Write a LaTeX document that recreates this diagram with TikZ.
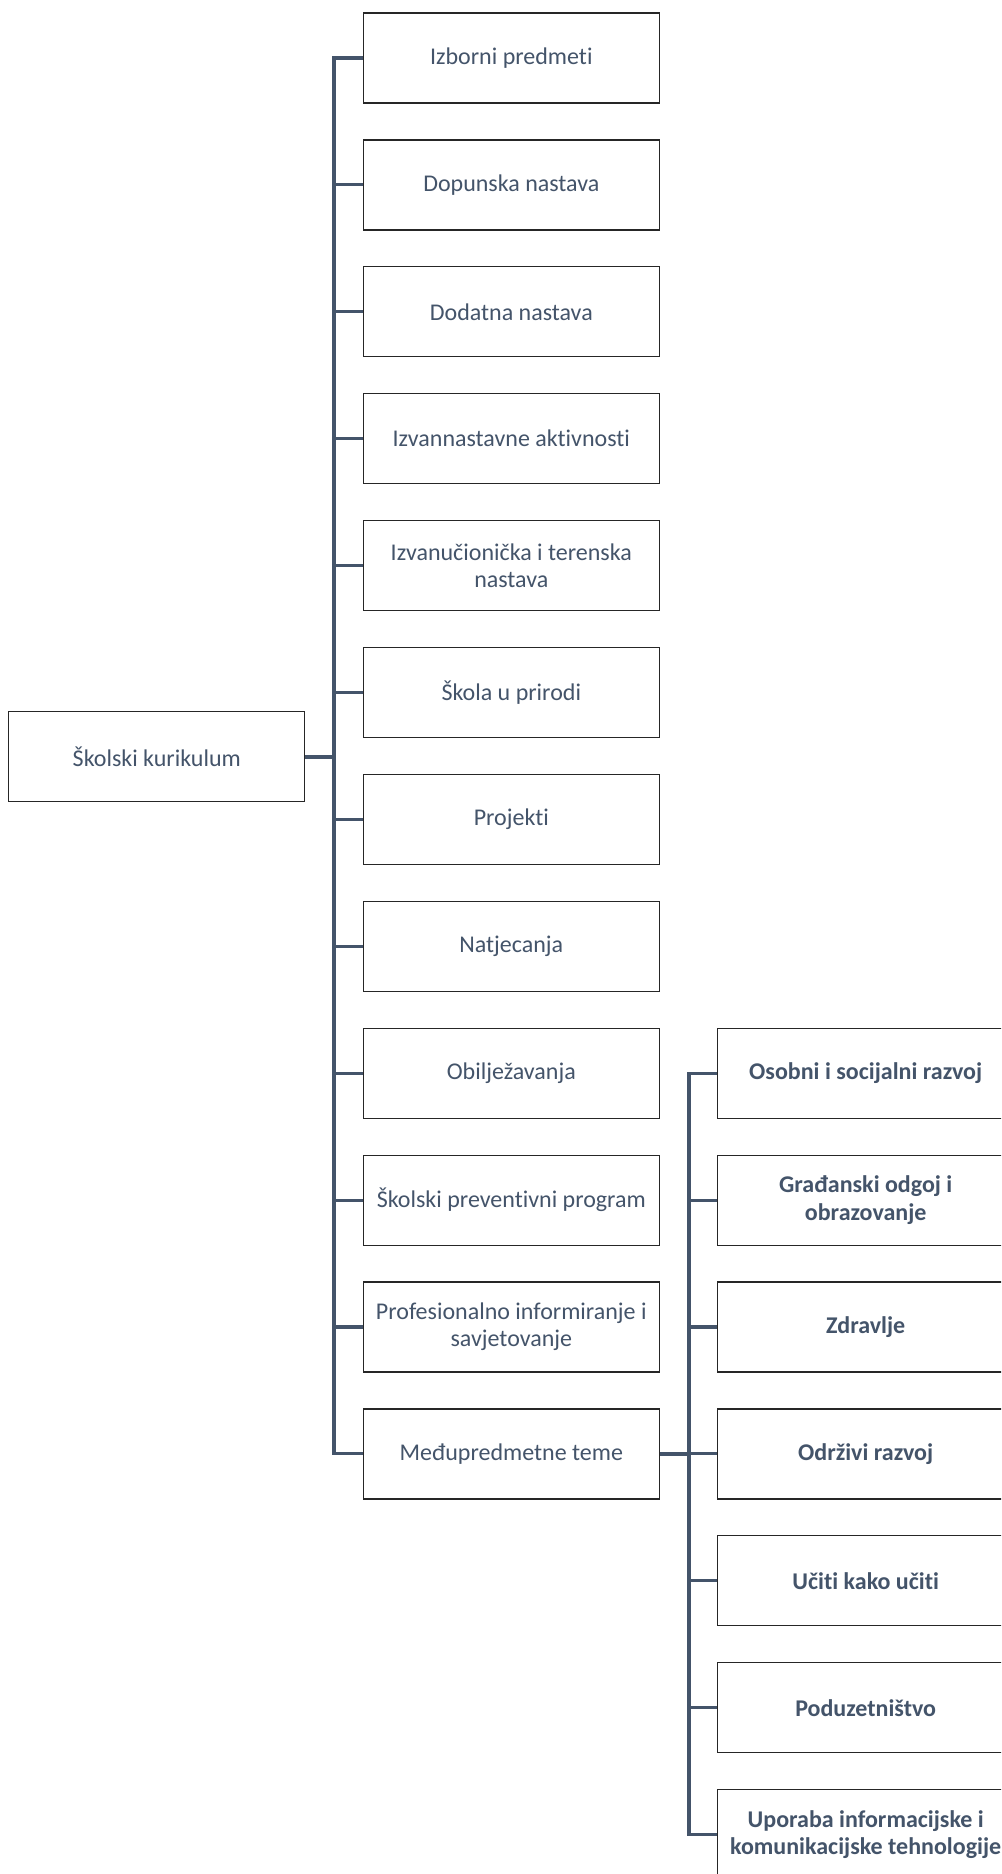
\documentclass[tikz,border=0pt]{standalone}
\usepackage{fontspec}
\setmainfont{Carlito}[Ligatures=NoCommon]
\definecolor{txt}{HTML}{44546A}
\definecolor{lnk}{HTML}{44546A}
\begin{document}
\begin{tikzpicture}[x=0.75pt,y=-0.75pt,
  box/.style={draw=black!85, line width=0.9pt, fill=white, minimum width=222pt, minimum height=67.5pt, inner sep=0pt, align=center, text=txt, font=\fontsize{18}{20.5}\selectfont},
  rbox/.style={box, font=\fontsize{18}{20.5}\selectfont\bfseries},
  conn/.style={draw=lnk, line width=2.3pt},
  rootconn/.style={draw=lnk, line width=3pt}]
\useasboundingbox (0,0) rectangle (1001,1874);
\clip (0,0) rectangle (1001,1874);
\node[box] (root) at (156.8,756.7) {Školski kurikulum};
\node[box] (l1) at (511.3,58) {Izborni predmeti};
\node[box] (l2) at (511.3,184.9) {Dopunska nastava};
\node[box] (l3) at (511.3,311.8) {Dodatna nastava};
\node[box] (l4) at (511.3,438.7) {Izvannastavne aktivnosti};
\node[box] (l5) at (511.3,565.6) {Izvanučionička i terenska\\nastava};
\node[box] (l6) at (511.3,692.5) {Škola u prirodi};
\node[box] (l7) at (511.3,819.4) {Projekti};
\node[box] (l8) at (511.3,946.3) {Natjecanja};
\node[box] (l9) at (511.3,1073.2) {Obilježavanja};
\node[box] (l10) at (511.3,1200.1) {Školski preventivni program};
\node[box] (l11) at (511.3,1327) {Profesionalno informiranje i\\savjetovanje};
\node[box] (l12) at (511.3,1453.9) {Međupredmetne teme};
\node[rbox] (r1) at (865.7,1073.2) {Osobni i socijalni razvoj};
\node[rbox] (r2) at (865.7,1200.1) {Građanski odgoj i\\obrazovanje};
\node[rbox] (r3) at (865.7,1327) {Zdravlje};
\node[rbox] (r4) at (865.7,1453.9) {Održivi razvoj};
\node[rbox] (r5) at (865.7,1580.8) {Učiti kako učiti};
\node[rbox] (r6) at (865.7,1707.7) {Poduzetništvo};
\node[rbox] (r7) at (865.7,1834.6) {Uporaba informacijske i\\komunikacijske tehnologije};
\coordinate (tL) at (334,756.7);
\coordinate (tR) at (689,1453.9);
\draw[rootconn] (root.east) -- (tL);
\foreach \i in {1,...,12} \draw[conn] (tL) |- (l\i.west);
\draw[rootconn] (l12.east) -- (tR);
\foreach \i in {1,...,7} \draw[conn] (tR) |- (r\i.west);
\end{tikzpicture}
\end{document}
